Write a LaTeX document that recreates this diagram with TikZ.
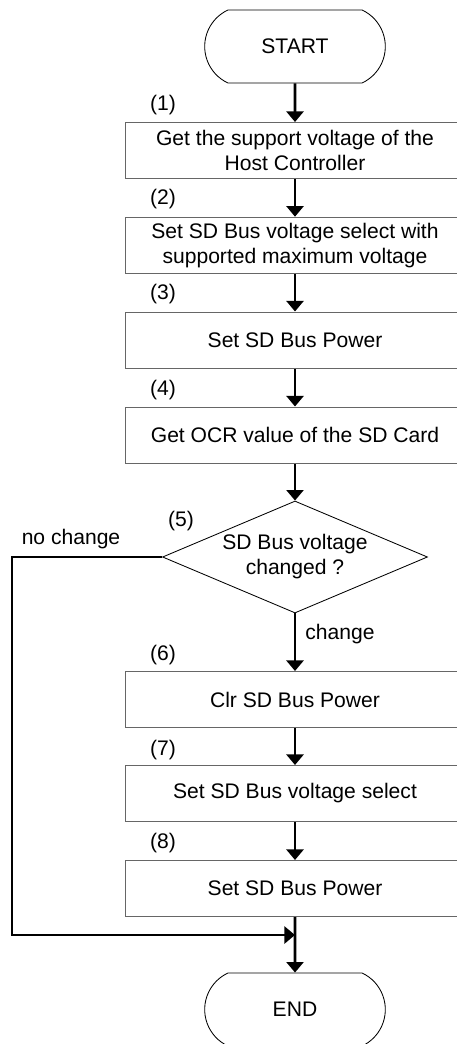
\documentclass[tikz,border=0pt]{standalone}
\usepackage{fontspec}
\setmainfont{Liberation Sans}
\usepackage{tikz}
\usetikzlibrary{arrows.meta,shapes.geometric,shapes.misc}
\pgfdeclarelayer{edgelayer}
\pgfdeclarelayer{nodelayer}
\pgfsetlayers{edgelayer,nodelayer,main}
\tikzstyle{every node}=[font=\fontsize{15}{17.8}\selectfont]
\tikzstyle{none}=[inner sep=0pt]
\tikzstyle{terminal}=[rounded rectangle, rounded rectangle arc length=130, draw=black, line width=0.6pt, fill=white, minimum width=4.75cm, minimum height=1.825cm]
\tikzstyle{process}=[rectangle, draw=black!60, line width=0.7pt, fill=white, minimum width=8.5cm, minimum height=1.4cm, align=center, inner sep=0pt]
\tikzstyle{decision}=[diamond, draw=black, line width=0.6pt, fill=white, aspect=2.37, minimum width=6.625cm, minimum height=2.8cm, align=center, inner sep=0pt]
\tikzstyle{flow}=[draw=black, line width=2.1pt, -{Triangle[width=12pt,length=7.5pt]}]

\begin{document}
\begin{tikzpicture}
				\useasboundingbox (0, 0) rectangle (11.4, -26.1);
				\begin{pgfonlayer}{nodelayer}
					\node [style=terminal] (0) at (7.375, -1.1625) {START};
					\node [style=process] (1) at (7.375, -3.7625) {Get the support voltage of the\\Host Controller};
					\node [style=process] (2) at (7.375, -6.13) {Set SD Bus voltage select with\\supported maximum voltage};
					\node [style=process] (3) at (7.375, -8.5) {Set SD Bus Power};
					\node [style=process] (4) at (7.375, -10.875) {Get OCR value of the SD Card};
					\node [style=decision] (5) at (7.375, -13.925) {SD Bus voltage\\changed ?};
					\node [style=process] (6) at (7.375, -17.4875) {Clr SD Bus Power};
					\node [style=process] (7) at (7.375, -19.8375) {Set SD Bus voltage select};
					\node [style=process] (8) at (7.375, -22.2125) {Set SD Bus Power};
					\node [style=terminal] (9) at (7.375, -25.2375) {END};
					\node [style=none] (11) at (4.075, -2.625) {(1)};
					\node [style=none] (12) at (4.075, -4.975) {(2)};
					\node [style=none] (13) at (4.075, -7.35) {(3)};
					\node [style=none] (14) at (4.075, -9.75) {(4)};
					\node [style=none] (15) at (4.525, -13.025) {(5)};
					\node [style=none] (16) at (4.075, -16.375) {(6)};
					\node [style=none] (17) at (4.075, -18.75) {(7)};
					\node [style=none] (18) at (4.075, -21.075) {(8)};
					\node [style=none] (19) at (1.775, -13.475) {no change};
					\node [style=none] (20) at (8.5, -15.85) {change};
					\coordinate (21) at (0.3, -23.375);
					\coordinate (22) at (7.375, -23.375);
				\end{pgfonlayer}
				\begin{pgfonlayer}{edgelayer}
					\draw [style=flow] (0) to (1);
					\draw [style=flow] (1) to (2);
					\draw [style=flow] (2) to (3);
					\draw [style=flow] (3) to (4);
					\draw [style=flow] (4) to (5);
					\draw [style=flow] (5) to (6);
					\draw [style=flow] (6) to (7);
					\draw [style=flow] (7) to (8);
					\draw [style=flow] (8) to (9);
					\draw [style=flow] (5.west) -| (21) -- (22);
				\end{pgfonlayer}
			\end{tikzpicture}
\end{document}
